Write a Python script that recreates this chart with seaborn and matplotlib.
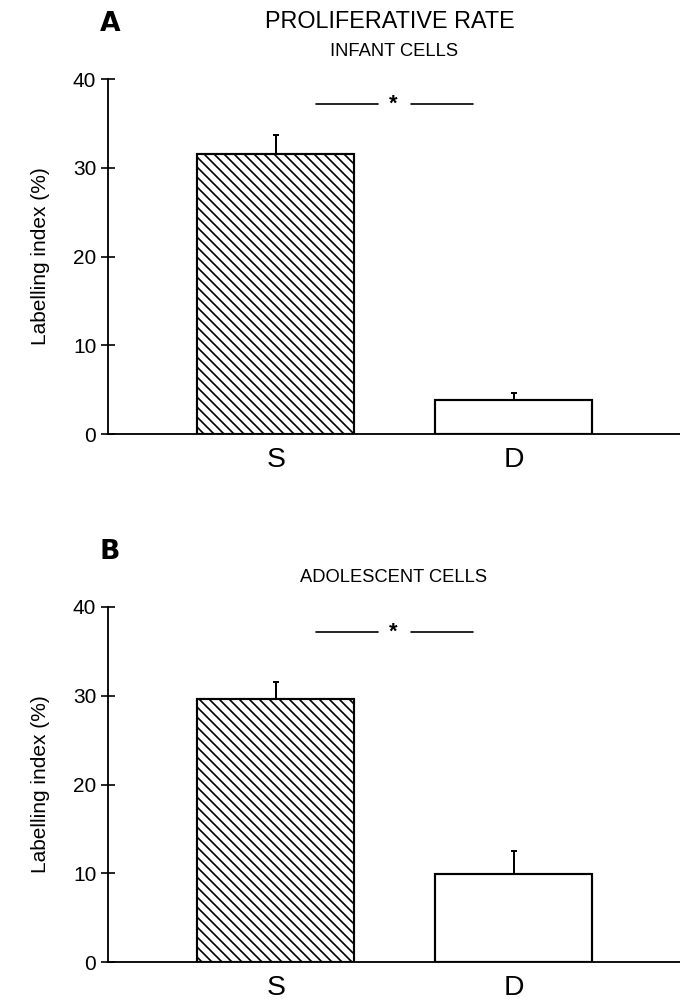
import matplotlib
matplotlib.use('Agg')
import matplotlib.pyplot as plt
import seaborn as sns
import pandas as pd


# values (labelling index, %)
groups = ["S", "D"]
infant_mean = [31.6, 3.8]
infant_sem = [2.1, 0.8]
adolescent_mean = [29.6, 9.9]
adolescent_sem = [2.0, 2.6]
y_ticks = [0, 10, 20, 30, 40]
sig_level = 37.2

sns.set_style("ticks")
plt.rcParams['font.family'] = ['Liberation Sans', 'DejaVu Sans']
plt.rcParams.update({
    "text.color": "black",
    "axes.labelcolor": "black",
    "axes.edgecolor": "black",
    "xtick.color": "black",
    "ytick.color": "black",
})


def draw_panel(ax, means, sems, letter, title, subtitle, letter_y, sub_y):
    df = pd.DataFrame({"group": groups, "value": means})
    sns.barplot(data=df, x="group", y="value", ax=ax, width=0.66,
                color="white", edgecolor="black", linewidth=1.3,
                errorbar=None, zorder=2)
    # hatch the S bar, leave D open
    ax.patches[0].set_hatch("\\\\\\\\")
    ax.patches[1].set_hatch("")

    # upper error bars only
    ax.errorbar(range(len(means)), means, yerr=[[0] * len(sems), sems],
                fmt="none", ecolor="black", elinewidth=1.2, capsize=2,
                capthick=1.2, zorder=3)

    # significance marker
    ax.plot([0.17, 0.43], [sig_level, sig_level], color="black", lw=1.0)
    ax.plot([0.57, 0.83], [sig_level, sig_level], color="black", lw=1.0)
    ax.text(0.495, sig_level, "*", ha="center", va="center", fontsize=13,
            fontweight="bold")

    ax.set_xlim(-0.705, 1.70)
    ax.set_ylim(0, 40)
    ax.set_yticks(y_ticks)
    ax.tick_params(axis="y", direction="inout", length=8, width=1,
                   labelsize=12.5, pad=3)
    ax.tick_params(axis="x", length=0, labelsize=17, pad=8)
    ax.set_xlabel("")
    ax.set_ylabel("Labelling index (%)", fontsize=12.5, labelpad=14)
    sns.despine(ax=ax)
    for s in ["left", "bottom"]:
        ax.spines[s].set_linewidth(1.1)

    fig = ax.figure
    fig.text(100 / 680, letter_y, letter, fontsize=16, fontweight="bold",
             family=['Liberation Sans Narrow', 'DejaVu Sans'], ha="left", va="center")
    if title:
        fig.text(390 / 680, 1 - 22 / 1006, title, fontsize=14,
                 ha="center", va="center")
    fig.text(394 / 680, sub_y, subtitle, fontsize=11, ha="center", va="center")


fig = plt.figure(figsize=(680 / 120, 1006 / 120), dpi=120)
ax_a = fig.add_axes([108 / 680, 1 - 434 / 1006, 1 - 108 / 680, 355 / 1006])
ax_b = fig.add_axes([108 / 680, 1 - 962 / 1006, 1 - 108 / 680, 355 / 1006])

draw_panel(ax_a, infant_mean, infant_sem, "A", "PROLIFERATIVE RATE",
           "INFANT CELLS", 1 - 24 / 1006, 1 - 51 / 1006)
draw_panel(ax_b, adolescent_mean, adolescent_sem, "B", None,
           "ADOLESCENT CELLS", 1 - 552 / 1006, 1 - 578 / 1006)

fig.savefig("out.png", dpi=120)
